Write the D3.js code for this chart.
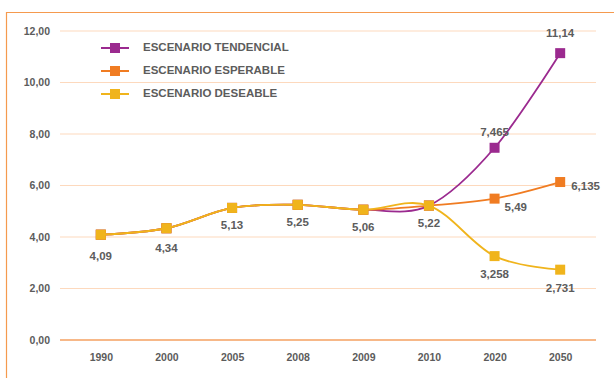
<!DOCTYPE html>
<html>
<head>
<meta charset="utf-8">
<script src="https://cdn.jsdelivr.net/npm/d3@7"></script>
<style>
  html, body { margin: 0; padding: 0; background: #fff; }
  svg { display: block; }
  text { font-family: "Liberation Sans", Arial, sans-serif; font-weight: bold; fill: #5c5c5c; }
</style>
</head>
<body>
<svg id="chart" width="614" height="378"></svg>
<script>
// Categories (years) and the three scenario series
const years = ["1990", "2000", "2005", "2008", "2009", "2010", "2020", "2050"];
const tendencial = [4.09, 4.34, 5.13, 5.25, 5.06, 5.22, 7.465, 11.14];
const esperable  = [4.09, 4.34, 5.13, 5.25, 5.06, 5.22, 5.49, 6.135];
const deseable   = [4.09, 4.34, 5.13, 5.25, 5.06, 5.22, 3.258, 2.731];
const yTicks = [0, 2, 4, 6, 8, 10, 12];
const seriesNames = ["ESCENARIO TENDENCIAL", "ESCENARIO ESPERABLE", "ESCENARIO DESEABLE"];
const seriesColors = ["#9b2a8f", "#f07c22", "#f0b41c"];

const svg = d3.select("#chart");
const plotLeft = 60, plotRight = 596, plotTop = 31, plotBottom = 340;

const x = d3.scalePoint().domain(years).range([68, 593]).padding(0.5);
const y = d3.scaleLinear().domain([0, 12]).range([plotBottom, plotTop]);

const fmt = v => String(v).replace(".", ",");

// Outer frame (top and left edges)
svg.append("path")
  .attr("d", "M6.5,378 L6.5,12.5 L614,12.5")
  .attr("fill", "none").attr("stroke", "#f59a4e").attr("stroke-width", 1.2);

// Horizontal gridlines
svg.append("g").selectAll("line").data(yTicks.filter(d => d > 0)).join("line")
  .attr("x1", plotLeft).attr("x2", plotRight)
  .attr("y1", d => y(d)).attr("y2", d => y(d))
  .attr("stroke", "#fdd9bd").attr("stroke-width", 1.2);

// Baseline
svg.append("line")
  .attr("x1", plotLeft).attr("x2", plotRight).attr("y1", y(0)).attr("y2", y(0))
  .attr("stroke", "#f5a060").attr("stroke-width", 1.5);

// Y axis tick labels
const yAxis = d3.axisLeft(y).tickValues(yTicks).tickSize(0).tickPadding(0)
  .tickFormat(d => d3.format(".2f")(d).replace(".", ","));
svg.append("g").attr("transform", "translate(50,0)").call(yAxis)
  .call(g => g.select(".domain").remove())
  .selectAll("text").attr("font-size", 10.5).attr("font-family", null).attr("fill", null);

// X axis tick labels
const xAxis = d3.axisBottom(x).tickSize(0).tickPadding(0);
svg.append("g").attr("transform", "translate(0,354)").call(xAxis)
  .call(g => g.select(".domain").remove())
  .selectAll("text").attr("font-size", 10.5).attr("font-family", null).attr("fill", null);

const line = d3.line()
  .x((d, i) => x(years[i]))
  .y(d => y(d))
  .curve(d3.curveCardinal.tension(0));

const allSeries = [tendencial, esperable, deseable];
allSeries.forEach((vals, k) => {
  const g = svg.append("g");
  g.append("path").datum(vals).attr("d", line)
    .attr("fill", "none").attr("stroke", seriesColors[k]).attr("stroke-width", 1.8);
  g.selectAll("rect").data(vals).join("rect")
    .attr("x", (d, i) => x(years[i]) - 5)
    .attr("y", d => y(d) - 5)
    .attr("width", 10).attr("height", 10)
    .attr("fill", seriesColors[k]);
});

// Value labels
const labels = [];
years.slice(0, 6).forEach((yr, i) => labels.push({ yr, v: tendencial[i], dx: 0, dy: 18, anchor: "middle" }));
labels.push({ yr: "2020", v: tendencial[6], dx: 0, dy: -15, anchor: "middle" });
labels.push({ yr: "2050", v: tendencial[7], dx: 0, dy: -19, anchor: "middle" });
labels.push({ yr: "2020", v: esperable[6], dx: 10, dy: 9, anchor: "start" });
labels.push({ yr: "2050", v: esperable[7], dx: 11, dy: 5, anchor: "start" });
labels.push({ yr: "2020", v: deseable[6], dx: 0, dy: 19, anchor: "middle" });
labels.push({ yr: "2050", v: deseable[7], dx: 0, dy: 19, anchor: "middle" });
labels[0].dy = 22; labels[1].dy = 21;

svg.append("g").selectAll("text").data(labels).join("text")
  .attr("x", d => x(d.yr) + d.dx)
  .attr("y", d => y(d.v) + d.dy)
  .attr("text-anchor", d => d.anchor)
  .attr("dominant-baseline", "middle")
  .attr("font-size", 11.5)
  .text(d => fmt(d.v));

// Legend
const legend = svg.append("g").selectAll("g").data(seriesNames).join("g")
  .attr("transform", (d, i) => `translate(101,${48 + i * 23})`);
legend.append("line").attr("x1", 0).attr("x2", 28)
  .attr("stroke", (d, i) => seriesColors[i]).attr("stroke-width", 2);
legend.append("rect").attr("x", 9).attr("y", -5).attr("width", 10).attr("height", 10)
  .attr("fill", (d, i) => seriesColors[i]);
legend.append("text").attr("x", 42).attr("dominant-baseline", "middle")
  .attr("font-size", 11.5).text(d => d);
</script>
</body>
</html>
